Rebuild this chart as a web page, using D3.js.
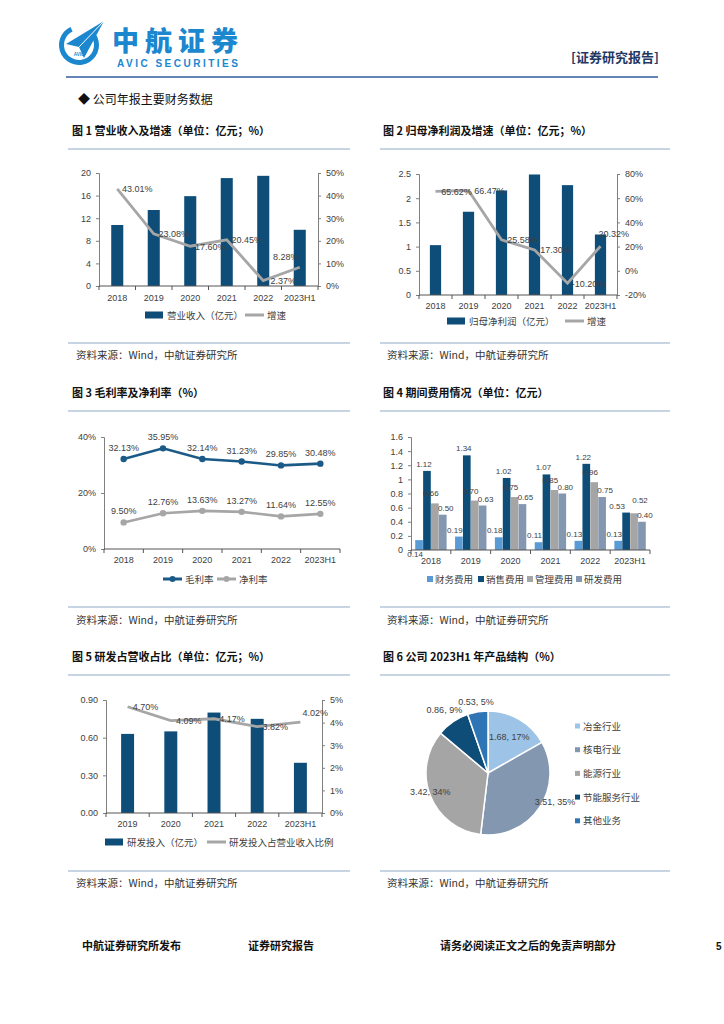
<!DOCTYPE html>
<html><head><meta charset="utf-8">
<script src="https://cdn.jsdelivr.net/npm/d3@7"></script>
<style>body{margin:0;background:#fff} svg{display:block}</style>
</head><body><svg id="c" width="724" height="1024"></svg>
<script>
// ---------- DATA ----------
const years6 = ["2018","2019","2020","2021","2022","2023H1"];
const revenue = [10.8,13.45,15.9,19.1,19.5,9.95];
const revenueGrowth = [43.01,23.08,17.60,20.45,2.37,8.28];
const revTicksL = [0,4,8,12,16,20];
const revTicksR = [0,10,20,30,40,50];
const netProfit = [1.03,1.72,2.16,2.49,2.27,1.25];
const netGrowth = [65.62,66.47,25.58,17.30,-10.20,20.32];
const npTicksL = [0,0.5,1,1.5,2,2.5];
const npTicksR = [-20,0,20,40,60,80];
const grossMargin = [32.13,35.95,32.14,31.23,29.85,30.48];
const netMargin = [9.50,12.76,13.63,13.27,11.64,12.55];
const marginTicks = [0,20,40];
const expenseNames = ["财务费用","销售费用","管理费用","研发费用"];
const finExp = [0.14,0.19,0.18,0.11,0.13,0.13];
const salesExp = [1.12,1.34,1.02,1.07,1.22,0.53];
const adminExp = [0.66,0.70,0.75,0.85,0.96,0.52];
const rdExp = [0.50,0.63,0.65,0.80,0.75,0.40];
const expTicks = [0,0.2,0.4,0.6,0.8,1,1.2,1.4,1.6];
const years5 = ["2019","2020","2021","2022","2023H1"];
const rdInvest = [0.63,0.65,0.80,0.75,0.40];
const rdRatio = [4.70,4.09,4.17,3.82,4.02];
const rdTicksL = [0,0.3,0.6,0.9];
const rdTicksR = [0,1,2,3,4,5];
const segNames = ["冶金行业","核电行业","能源行业","节能服务行业","其他业务"];
const segValues = [1.68,3.51,3.42,0.86,0.53];
const segPct = [17,35,34,9,5];

// ---------- STYLE ----------
const svg = d3.select("#c");
svg.append("rect").attr("width",724).attr("height",1024).attr("fill","#fff");
const NAVY="#0E4D78", GRAY="#A6A6A6", AX="#808080", TXT="#404040", LOGO="#1B87CF";
const NUMF="'Liberation Sans', Arial, sans-serif";
const CJK="'Noto Sans CJK SC', 'Noto Sans', sans-serif";

function txt(x,y,s,o={}){
  const t=svg.append("text").attr("x",x).attr("y",y).text(s)
    .attr("font-family",o.ff||CJK).attr("font-size",o.fs||10)
    .attr("fill",o.fill||TXT).attr("text-anchor",o.anchor||"start");
  if(o.fw) t.attr("font-weight",o.fw);
  if(o.ls) t.attr("letter-spacing",o.ls);
  return t;
}
function hline(x1,x2,y,c,w){svg.append("line").attr("x1",x1).attr("x2",x2).attr("y1",y).attr("y2",y).attr("stroke",c).attr("stroke-width",w);}

// ---------- HEADER ----------
const logo=svg.append("g");
logo.append("path").attr("transform","translate(79,45)")
  .attr("d",d3.arc()({innerRadius:15,outerRadius:20,startAngle:Math.PI*0.30,endAngle:Math.PI*1.86}))
  .attr("fill",LOGO);
logo.append("path").attr("d","M104,21 L66,44 L79,47 L84,58 Z").attr("fill",LOGO);
logo.append("path").attr("d","M104,21 L79,47").attr("stroke","#fff").attr("stroke-width",1);
txt(79,56,"AVIC",{ff:NUMF,fs:4.5,fill:LOGO,anchor:"middle",fw:700});
txt(112,51,"中航证券",{fs:27,fw:900,fill:LOGO,ls:6});
txt(117,67,"AVIC SECURITIES",{ff:NUMF,fs:10,fw:700,fill:LOGO,ls:2.5});
txt(571,62,"[证券研究报告]",{fs:13,fw:700,fill:"#1F3864"});
hline(66,658,77,"#2F5C9E",1.6);
txt(78,104,"◆ 公司年报主要财务数据",{fs:12,fill:"#111"});

// ---------- FRAMES ----------
function frame(title,tx,lx0,lx1,ty,ly,sly,sy){
  txt(tx,ty,title,{fs:11,fw:700,fill:"#111"});
  hline(lx0,lx1,ly,"#8EA9C8",1.2);
  hline(lx0,lx1,sly,"#8EA9C8",1.2);
  txt(tx+4,sy,"资料来源：Wind，中航证券研究所",{fs:10.5,fill:"#333"});
}
frame("图 1  营业收入及增速（单位：亿元；%）",72,68,350,135,149,343,359);
frame("图 2  归母净利润及增速（单位：亿元；%）",383,380,670,135,149,343,359);
frame("图 3  毛利率及净利率（%）",72,68,350,397,411,607,624);
frame("图 4  期间费用情况（单位：亿元）",383,380,670,397,411,607,624);
frame("图 5  研发占营收占比（单位：亿元；%）",72,68,350,661,675,871,887);
frame("图 6  公司 2023H1 年产品结构（%）",383,380,670,661,675,871,887);

// ---------- AXIS HELPERS ----------
function yAxis(scale,ticks,fmt,side,x){
  const ax=(side==="left"?d3.axisLeft(scale):d3.axisRight(scale)).tickValues(ticks).tickFormat(fmt).tickSize(3).tickPadding(5);
  const g=svg.append("g").attr("transform",`translate(${x},0)`).call(ax);
  g.select(".domain").attr("stroke",AX);
  g.selectAll(".tick line").attr("stroke",AX);
  g.selectAll("text").attr("font-family",NUMF).attr("font-size",9).attr("fill",TXT);
}
function xAxis(band,y,labelDy){
  const [a,b]=band.range();
  hline(a,b,y,"#555",1);
  const n=band.domain().length, step=(b-a)/n;
  svg.append("g").selectAll("line").data(d3.range(n+1)).join("line")
    .attr("x1",i=>a+i*step).attr("x2",i=>a+i*step).attr("y1",y).attr("y2",y+4).attr("stroke","#555");
  svg.append("g").selectAll("text").data(band.domain()).join("text")
    .attr("x",d=>band(d)+band.bandwidth()/2).attr("y",y+labelDy).attr("text-anchor","middle")
    .attr("font-family",NUMF).attr("font-size",9).attr("fill",TXT).text(d=>d);
}
const pct0=d=>d+"%";
function legendRect(x,y,label,color){
  svg.append("rect").attr("x",x).attr("y",y-3.5).attr("width",18).attr("height",7).attr("fill",color);
  txt(x+22,y+3.5,label,{fs:9.5});
}
function legendLine(x,y,label,color,marker){
  hline(x,x+19,y,color,3);
  if(marker) svg.append("circle").attr("cx",x+9.5).attr("cy",y).attr("r",3).attr("fill",color);
  txt(x+22,y+3.5,label,{fs:9.5});
}

// ---------- CHART 1 ----------
{
  const x=d3.scaleBand().domain(years6).range([99,318]).paddingInner(0.67).paddingOuter(0.335);
  const yL=d3.scaleLinear().domain([0,20]).range([286,173]);
  const yR=d3.scaleLinear().domain([0,50]).range([286,173]);
  svg.append("g").selectAll("rect").data(revenue).join("rect")
    .attr("x",(d,i)=>x(years6[i])).attr("width",x.bandwidth())
    .attr("y",d=>yL(d)).attr("height",d=>yL(0)-yL(d)).attr("fill",NAVY);
  yAxis(yL,revTicksL,d=>d,"left",99);
  yAxis(yR,revTicksR,pct0,"right",318);
  xAxis(x,286,15);
  const cx=i=>x(years6[i])+x.bandwidth()/2;
  svg.append("path").datum(revenueGrowth).attr("fill","none").attr("stroke",GRAY).attr("stroke-width",2.8)
    .attr("d",d3.line().x((d,i)=>cx(i)).y(d=>yR(d)));
  revenueGrowth.forEach((d,i)=>{
    const last=i===revenueGrowth.length-1;
    txt(cx(i)+(last?-14:20),yR(d)+(last?-7:3.5),d.toFixed(2)+"%",{ff:NUMF,fs:9,anchor:"middle"});
  });
  legendRect(145,315,"营业收入（亿元）",NAVY);
  legendLine(245,315,"增速",GRAY);
}

// ---------- CHART 2 ----------
{
  const x=d3.scaleBand().domain(years6).range([419,617]).paddingInner(0.66).paddingOuter(0.33);
  const yL=d3.scaleLinear().domain([0,2.5]).range([295,174]);
  const yR=d3.scaleLinear().domain([-20,80]).range([295,174]);
  svg.append("g").selectAll("rect").data(netProfit).join("rect")
    .attr("x",(d,i)=>x(years6[i])).attr("width",x.bandwidth())
    .attr("y",d=>yL(d)).attr("height",d=>yL(0)-yL(d)).attr("fill",NAVY);
  yAxis(yL,npTicksL,d=>d,"left",419);
  yAxis(yR,npTicksR,pct0,"right",617);
  xAxis(x,295,14);
  const cx=i=>x(years6[i])+x.bandwidth()/2;
  svg.append("path").datum(netGrowth).attr("fill","none").attr("stroke",GRAY).attr("stroke-width",2.8)
    .attr("d",d3.line().x((d,i)=>cx(i)).y(d=>yR(d)));
  netGrowth.forEach((d,i)=>{
    const last=i===netGrowth.length-1;
    txt(cx(i)+(last?-2:21),yR(d)+(last?-9:3.5),d.toFixed(2)+"%",{ff:NUMF,fs:9,anchor:last?"start":"middle"});
  });
  legendRect(447,321,"归母净利润（亿元）",NAVY);
  legendLine(565,321,"增速",GRAY);
}

// ---------- CHART 3 ----------
{
  const x=d3.scaleBand().domain(years6).range([104,340]);
  const y=d3.scaleLinear().domain([0,40]).range([549,437]);
  yAxis(y,marginTicks,pct0,"left",104);
  xAxis(x,549,14);
  const cx=i=>x(years6[i])+x.bandwidth()/2;
  [[grossMargin,"#1B5A86"],[netMargin,GRAY]].forEach(([arr,c])=>{
    svg.append("path").datum(arr).attr("fill","none").attr("stroke",c).attr("stroke-width",2.6)
      .attr("d",d3.line().x((d,i)=>cx(i)).y(d=>y(d)));
    svg.append("g").selectAll("circle").data(arr).join("circle")
      .attr("cx",(d,i)=>cx(i)).attr("cy",d=>y(d)).attr("r",3.2).attr("fill",c);
    arr.forEach((d,i)=>txt(cx(i),y(d)-8,d.toFixed(2)+"%",{ff:NUMF,fs:9,anchor:"middle"}));
  });
  legendLine(163,579,"毛利率","#1B5A86",true);
  legendLine(217,579,"净利率",GRAY,true);
}

// ---------- CHART 4 ----------
{
  const series=[finExp,salesExp,adminExp,rdExp];
  const colors=["#5B9BD5","#0E4D78","#A5A5A5","#8497B0"];
  const x=d3.scaleBand().domain(years6).range([411,650]).paddingInner(0.2).paddingOuter(0.1);
  const xs=d3.scaleBand().domain(d3.range(4)).range([0,x.bandwidth()]).padding(0.03);
  const y=d3.scaleLinear().domain([0,1.6]).range([550,437]);
  yAxis(y,expTicks,d=>d,"left",411);
  series.forEach((arr,s)=>{
    svg.append("g").selectAll("rect").data(arr).join("rect")
      .attr("x",(d,i)=>x(years6[i])+xs(s)).attr("width",xs.bandwidth())
      .attr("y",d=>y(d)).attr("height",d=>y(0)-y(d)).attr("fill",colors[s]);
  });
  xAxis(x,550,14);
  const baseDx=[-4,-3,-4,3];
  series.forEach((arr,s)=>{
    arr.forEach((d,i)=>{
      let dx=baseDx[s], dy=-4;
      if(s===2) dy=-7;
      if(i===5&&s===1){dx=-9;}
      if(i===5&&s===2){dx=6;dy=-10;}
      const bx=x(years6[i])+xs(s)+xs.bandwidth()/2+dx;
      const below=(s===0&&i===0);
      txt(bx,below?y(0)+7:y(d)+dy,d.toFixed(2),{ff:NUMF,fs:8,anchor:"middle"});
    });
  });
  const lx=[427,478,527,576];
  expenseNames.forEach((n,s)=>{
    svg.append("rect").attr("x",lx[s]).attr("y",576).attr("width",6).attr("height",6).attr("fill",colors[s]);
    txt(lx[s]+8,582.5,n,{fs:9.5});
  });
}

// ---------- CHART 5 ----------
{
  const x=d3.scaleBand().domain(years5).range([106,322]).paddingInner(0.7).paddingOuter(0.35);
  const yL=d3.scaleLinear().domain([0,0.9]).range([813,700]);
  const yR=d3.scaleLinear().domain([0,5]).range([813,700]);
  svg.append("g").selectAll("rect").data(rdInvest).join("rect")
    .attr("x",(d,i)=>x(years5[i])).attr("width",x.bandwidth())
    .attr("y",d=>yL(d)).attr("height",d=>yL(0)-yL(d)).attr("fill",NAVY);
  yAxis(yL,rdTicksL,d=>d.toFixed(2),"left",106);
  yAxis(yR,rdTicksR,pct0,"right",322);
  xAxis(x,813,14);
  const cx=i=>x(years5[i])+x.bandwidth()/2;
  svg.append("path").datum(rdRatio).attr("fill","none").attr("stroke",GRAY).attr("stroke-width",2.8)
    .attr("d",d3.line().x((d,i)=>cx(i)).y(d=>yR(d)));
  rdRatio.forEach((d,i)=>{
    const last=i===rdRatio.length-1;
    txt(cx(i)+(last?2:18),yR(d)+(last?-6:3.5),d.toFixed(2)+"%",{ff:NUMF,fs:9,anchor:last?"start":"middle"});
  });
  legendRect(105,842,"研发投入（亿元）",NAVY);
  legendLine(207,842,"研发投入占营业收入比例",GRAY);
}

// ---------- CHART 6 ----------
{
  const colors=["#9DC3E6","#8497B0","#A5A5A5","#0E4D78","#2E75B6"];
  const cx=488, cy=773, r=62;
  const arcs=d3.pie().sort(null)(segValues);
  const arc=d3.arc().innerRadius(0).outerRadius(r);
  const g=svg.append("g").attr("transform",`translate(${cx},${cy})`);
  g.selectAll("path").data(arcs).join("path").attr("d",arc)
    .attr("fill",(d,i)=>colors[i]).attr("stroke","#fff").attr("stroke-width",1.5);
  const lr=[0.68,1.3,1.0,1.24,1.16], ldy=[0,-16,-4,0,0];
  arcs.forEach((a,i)=>{
    const [px,py]=d3.arc().innerRadius(r*lr[i]).outerRadius(r*lr[i]).centroid(a);
    txt(cx+px,cy+py+3+ldy[i],segValues[i].toFixed(2)+", "+segPct[i]+"%",{ff:NUMF,fs:9,anchor:"middle"});
  });
  segNames.forEach((n,i)=>{
    const ly=726+i*23.7;
    svg.append("rect").attr("x",575).attr("y",ly-2.5).attr("width",5).attr("height",5).attr("fill",colors[i]);
    txt(583,ly+3.5,n,{fs:9.5});
  });
}

// ---------- FOOTER ----------
txt(82,950,"中航证券研究所发布",{fs:11,fw:700,fill:"#111"});
txt(248,950,"证券研究报告",{fs:11,fw:700,fill:"#111"});
txt(440,950,"请务必阅读正文之后的免责声明部分",{fs:11,fw:700,fill:"#111"});
txt(716,950,"5",{ff:NUMF,fs:10,fw:700,fill:"#111"});
</script></body></html>
